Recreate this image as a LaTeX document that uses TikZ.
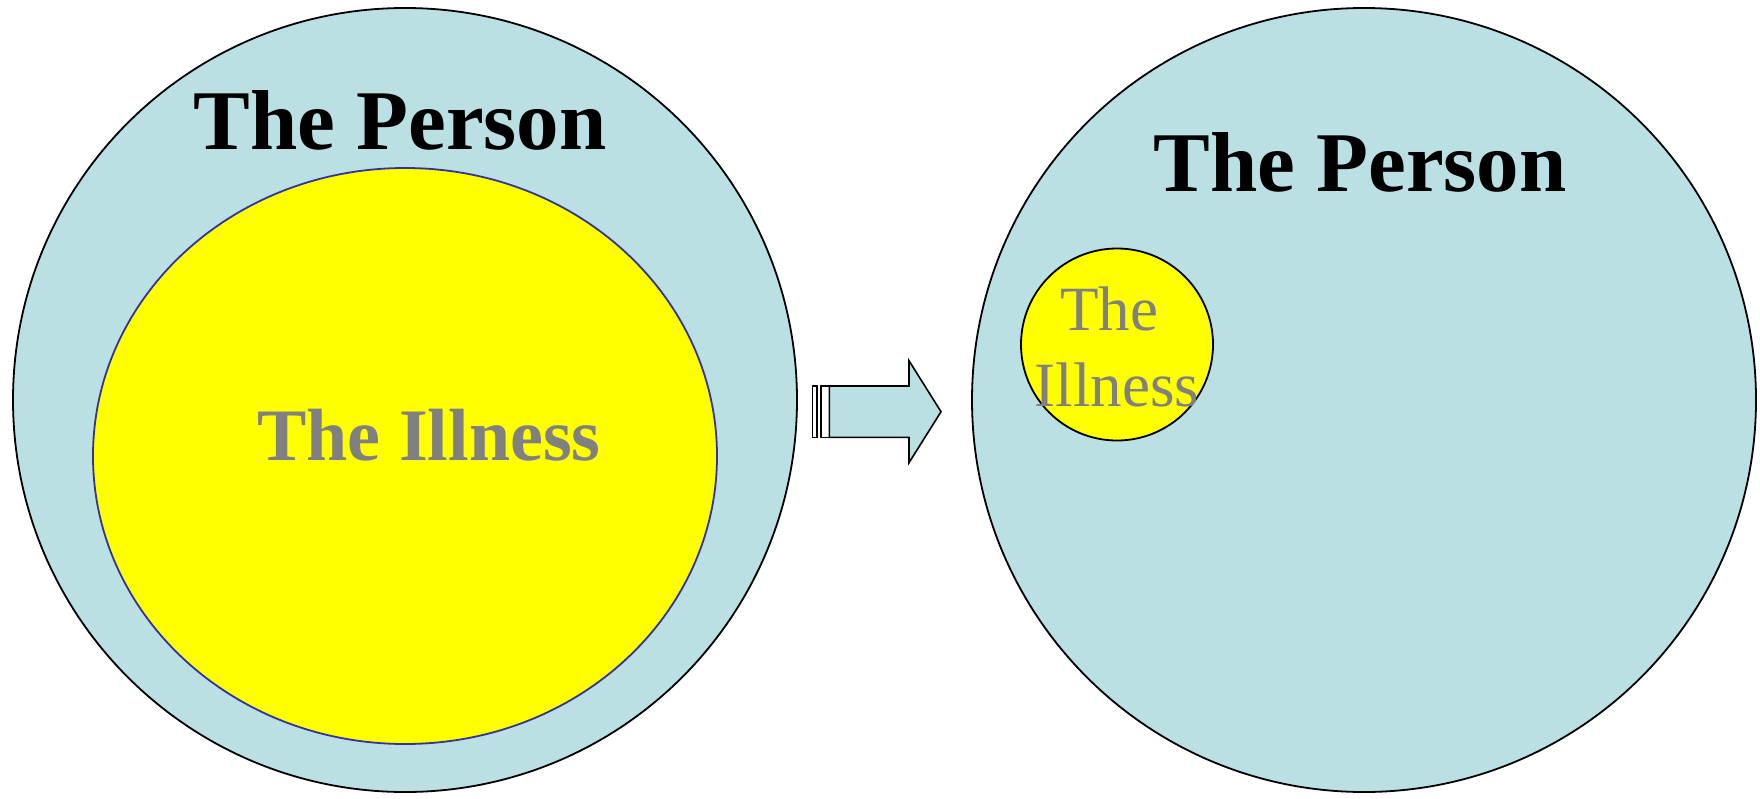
\documentclass[tikz,border=0pt]{standalone}
\usepackage{fontspec}
\setmainfont{Liberation Serif}
\usepackage{tikz}
\usetikzlibrary{positioning, shapes.geometric}
\definecolor{personblue}{RGB}{187,224,227}
\definecolor{illnessyellow}{RGB}{255,255,0}
\definecolor{illnessgray}{RGB}{128,128,128}
\definecolor{illnessedge}{RGB}{51,51,153}

\begin{document}
\begin{tikzpicture}[x=1pt, y=-1pt,
  person/.style={circle, draw=black, fill=personblue, line width=1.8pt, minimum size=784pt, inner sep=0pt},
  personlabel/.style={font=\fontsize{85pt}{102pt}\selectfont\bfseries, inner sep=0pt, anchor=base},
  illnesslabel/.style={text=illnessgray, inner sep=0pt}]
\useasboundingbox (0,0) rectangle (1760,798);
% before
\node[person](personA) at (405,400){};
\node[ellipse, draw=illnessedge, fill=illnessyellow, line width=1.8pt, minimum width=624pt, minimum height=576pt](illnessA) at (405,456){};
\node[personlabel, below = 142pt of personA.north, anchor=base, xshift=-5pt](personA label){The Person};
\node[illnesslabel, font=\fontsize{74pt}{89pt}\selectfont\bfseries, below = 4pt of illnessA.center, anchor=base, xshift=24pt](illnessA label){The Illness};
% arrow
\coordinate (arrow start) at (829.3,386);
\draw[line width=1.6pt, fill=white] (812.3,386) rectangle (816.7,437.3);
\draw[line width=1.6pt, fill=white] (820.7,386) rectangle (arrow start |- 0,437.3);
\draw[line width=1.6pt, fill=personblue] (arrow start) -- ++(79.7,0) -- ++(0,-25.3) -- ++(32,51) -- ++(-32,51) -- ++(0,-25.4) -- ++(-79.7,0) -- cycle;
% after
\node[person](personB) at (1364,400){};
\node[circle, draw=black, fill=illnessyellow, line width=1.8pt, minimum size=192pt, inner sep=0pt](illnessB) at (1117,344.5){};
\node[personlabel, below = 184pt of personB.north, anchor=base, xshift=-4pt](personB label){The Person};
\node[illnesslabel, font=\fontsize{63pt}{76pt}\selectfont, align=center, below = 2pt of illnessB.center, anchor=center](illnessB label){The\hspace*{.25em}\\Illness};
\end{tikzpicture}
\end{document}
